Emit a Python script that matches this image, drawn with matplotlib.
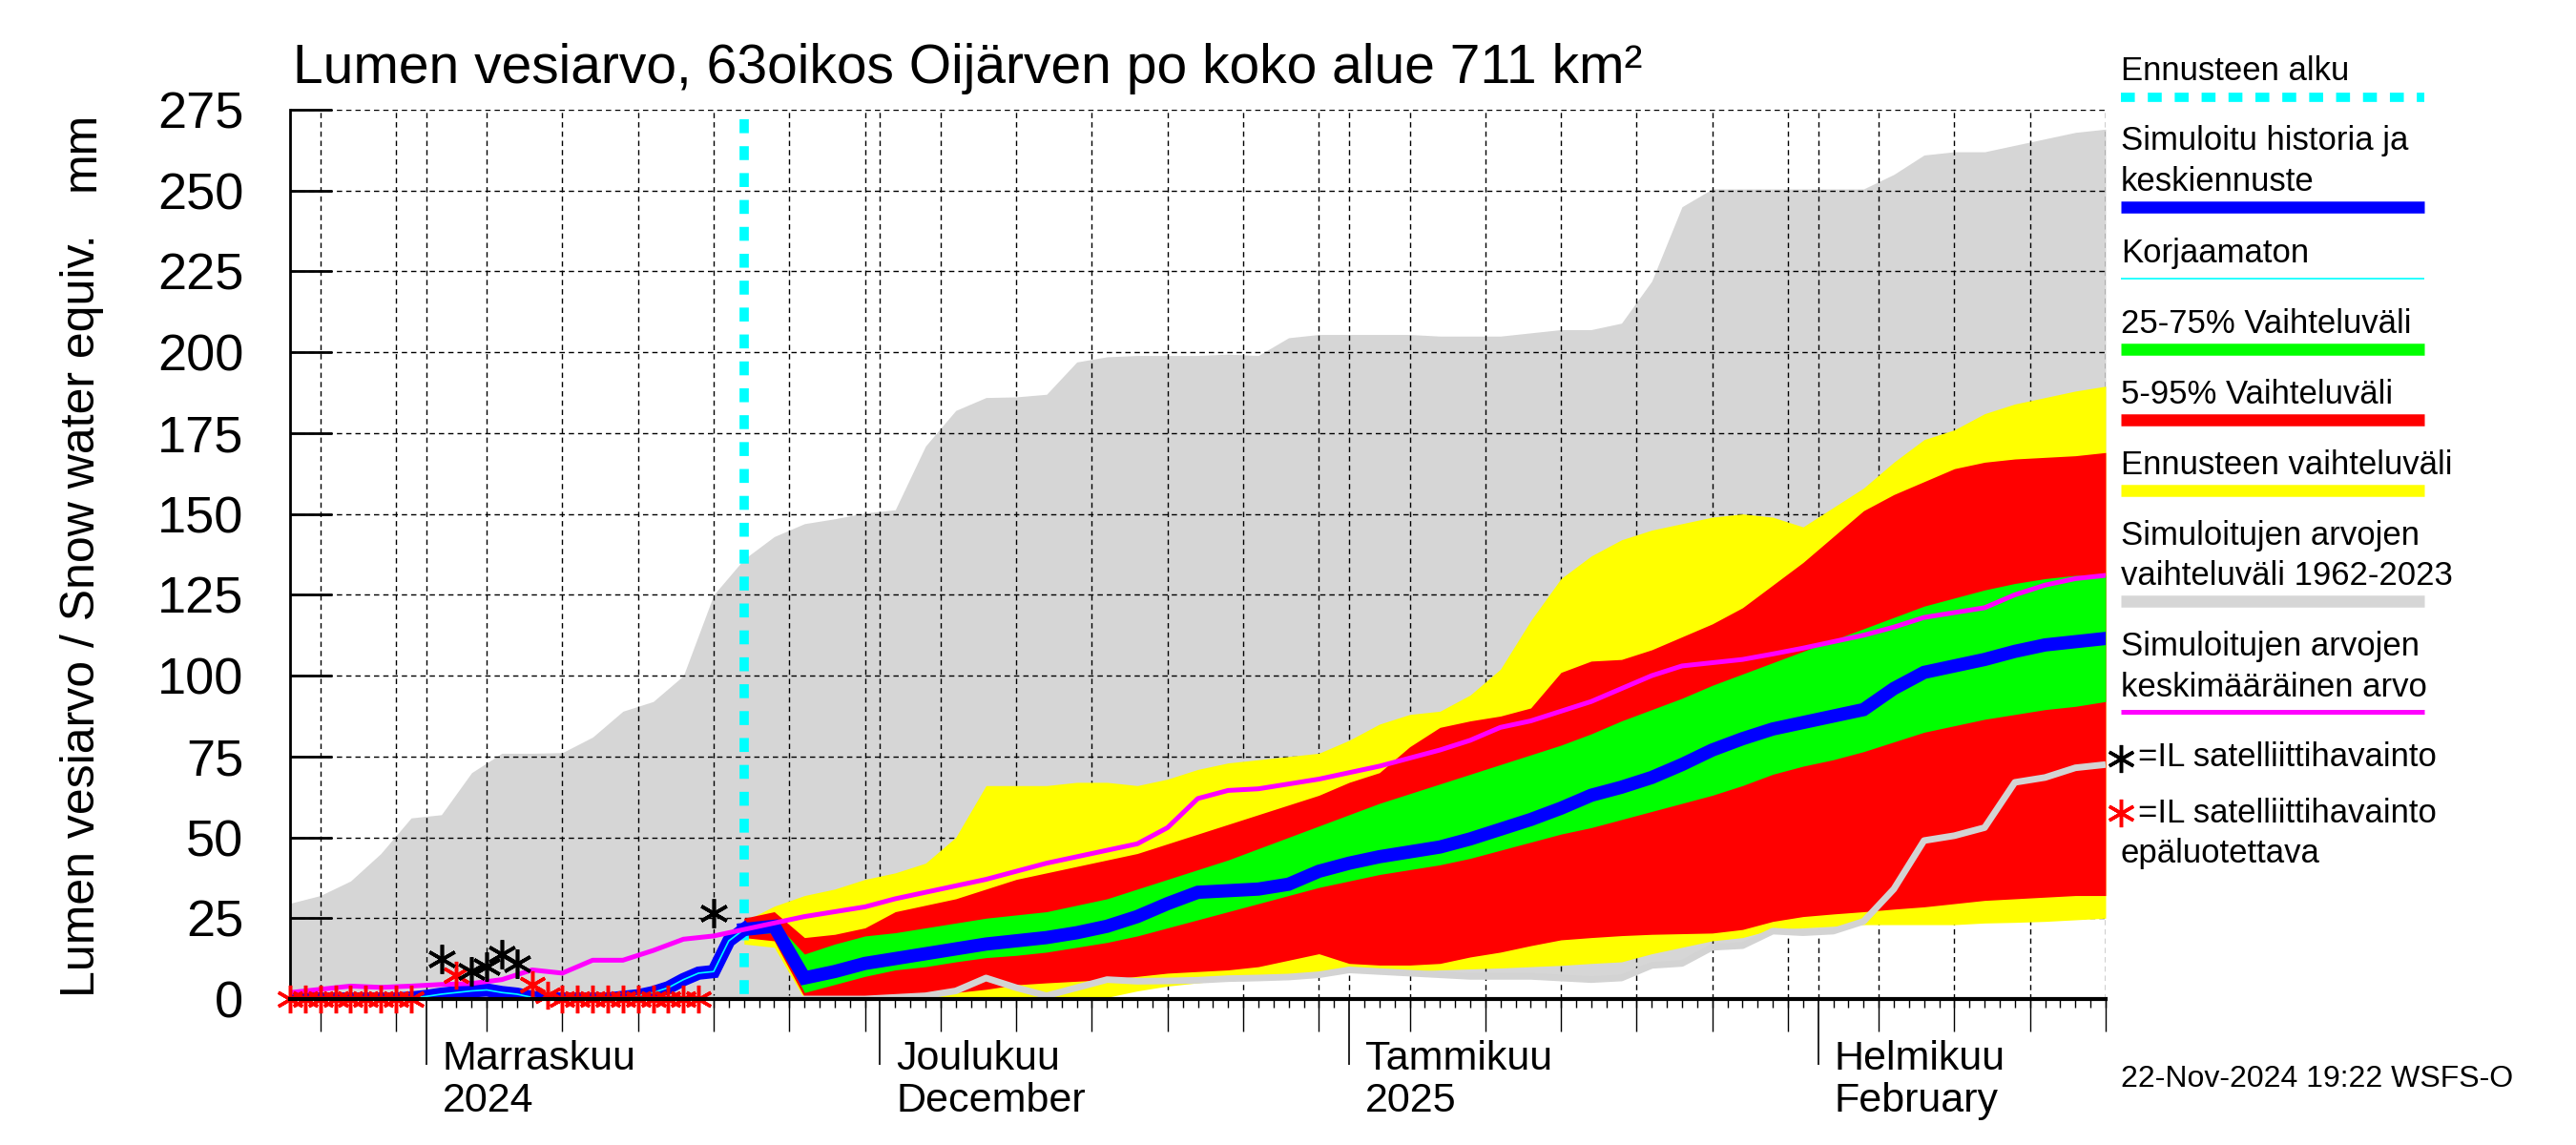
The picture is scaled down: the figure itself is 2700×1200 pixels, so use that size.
import numpy as np
import pandas as pd
import matplotlib
matplotlib.use("Agg")
import matplotlib.pyplot as plt
from matplotlib.lines import Line2D
import matplotlib.transforms as mtransforms

plt.rcParams['font.family'] = ['Liberation Sans', 'DejaVu Sans']

# ---- data (day offsets counted from 23 Oct 2024) ----
start = pd.Timestamp('2024-10-23')
end = pd.Timestamp('2025-02-20')
forecast_start = pd.Timestamp('2024-11-22')

band_days = list(range(0, 121, 2))      # simulated range 1962-2023 and mean
fc_days = list(range(30, 121, 2))       # forecast ensemble
hist_days = list(range(0, 31))          # simulated history

gray_max = [29.6, 32, 36.5, 45, 56, 57, 70, 76, 76, 76.2, 81, 89, 92, 100, 125, 136,
            143, 147, 148.5, 150.3, 151.3, 171, 182, 186, 186.2, 187, 197, 198.6, 199, 199,
            199, 199.4, 199, 204.5, 205.5, 205.5, 205.5, 205.5, 205, 205, 205, 206, 207, 207,
            209, 222, 245, 250.5, 250.5, 250.5, 250.5, 250.5, 250.5, 255, 261, 262, 262, 264,
            266, 268, 269]
gray_min = [0, 0, 0, 0, 0, 0, 0, 0, 0, 0, 0, 0, 0, 0, 0, 0, 0, 0, 0, 0,
            0.5, 1, 2.5, 6.5, 3.5, 1, 3.5, 6, 5.5, 5.6, 5.8, 6.3, 6.5, 6.8, 7.5, 9, 8.5, 8,
            7.5, 7, 7, 7, 6.5, 6, 6.5, 10.4, 11, 16, 16.5, 21, 20.5, 21, 24, 34, 49, 50.5,
            53, 67, 68.5, 71.5, 72.5]
mean_sim = [2, 3, 4, 3.6, 4, 4.5, 4.8, 6, 9, 8, 12, 12, 15, 18.5, 19.5, 21.5, 23.5,
            25.5, 27, 28.5, 31, 33, 35, 37, 39.5, 42, 44, 46, 48, 53, 62, 64.5, 65, 66.5,
            68, 70, 72, 74.5, 77, 80, 84, 86, 89, 92, 96, 100, 103, 104, 105, 106.7, 108.5,
            110.5, 112.5, 115, 118, 119.5, 121, 125, 128, 130, 131]

yellow_hi = [24, 28.7, 32, 34, 37, 39, 42, 50, 66, 66, 66, 67, 67, 66, 68, 71, 73, 74,
             75, 76, 80, 85, 88, 89, 94, 102, 117, 130, 137, 142, 145, 147, 149, 150, 149,
             146, 152, 158, 166, 173, 176, 181, 184, 186, 188, 189.5]
yellow_lo = [17, 16, 0, 0, 0, 0, 0, 0, 0, 0, 0, 0, 0.5, 2.5, 4, 5, 6, 6.5, 7.5, 8, 8.5,
             8.5, 8.6, 9, 9.3, 9.6, 10, 10.4, 11, 11.5, 14, 16, 18, 19, 21.5, 22, 22.5, 23,
             23, 23, 23, 23.5, 23.7, 24, 24.5, 25]
red_hi = [25, 27, 19, 20, 22, 27, 29, 31, 34, 37, 39, 41, 43, 45, 48, 51, 54, 57, 60,
          63, 67, 70, 78, 84, 86, 87.5, 90, 101, 104.5, 105, 108, 112, 116, 121, 128, 135,
          143, 151, 156, 160, 164, 166, 167, 167.5, 168, 169]
red_lo = [19, 18, 0.6, 1, 1, 1, 1.5, 2, 3, 4.4, 5, 5.5, 6, 7, 8, 8.5, 9, 10, 12, 14, 11,
          10.5, 10.5, 11, 13, 14.5, 16.5, 18.3, 19, 19.6, 20, 20.2, 20.4, 21.5, 24, 25.5,
          26.3, 27, 27.8, 28.5, 29.5, 30.5, 31, 31.5, 32, 32]
green_hi = [23, 24, 13.9, 17, 19.5, 20.5, 22, 23.5, 25, 26, 27, 29, 31, 34, 37, 40, 43,
            46.5, 50, 53.5, 57, 60.5, 63.5, 66.5, 69.5, 72.5, 75.5, 78.5, 82, 86, 89.5, 93,
            97, 100.5, 104, 107.5, 111, 114.5, 118, 121.5, 124, 126.5, 128.5, 130, 131, 131]
green_lo = [20, 20.5, 2, 4.5, 7, 9, 10, 11.5, 12.8, 13.5, 14.5, 16, 17.5, 19.5, 22, 24.5,
            27, 29.5, 32, 34.5, 36.5, 38.5, 40, 41.5, 43.5, 46, 48.5, 51, 53, 55.5, 58,
            60.5, 63, 66, 69.5, 72, 74, 76.5, 79.5, 82.5, 84.5, 86.5, 88, 89.5, 90.5, 92]
median_fc = [21.5, 22.5, 6.5, 8.5, 11, 12.5, 14, 15.5, 17, 18, 19, 20.5, 22.5, 25.5,
             29.5, 33, 33.5, 34, 35.5, 39.5, 42, 44, 45.5, 47, 49.5, 52.5, 55.5, 59, 63,
             65.5, 68.5, 72.5, 77, 80.5, 83.5, 85.5, 87.5, 89.5, 96, 101, 103, 105, 107.5,
             109.5, 110.5, 111.5]
sim_hist = [0, 0, 0, 0, 0, 0, 0, 0, 0.3, 0.8, 1.5, 2, 2.5, 2.8, 2, 1.5, 0.5, 0, 0, 0, 0,
            0, 0.5, 1, 2, 3.5, 6, 8, 8.5, 18, 21.5]

sat_days = [10, 12, 13, 14, 15, 28]
sat_vals = [12.4, 8.5, 10, 13.9, 10.9, 26.7]
bad_days = [0, 1, 2, 3, 4, 5, 6, 7, 8, 11, 16, 17, 18, 19, 20, 21, 22, 23, 24, 25, 26, 27]
bad_vals = [0, 0, 0, 0, 0, 0, 0, 0, 0, 7.5, 4.5, 1.2, 0, 0, 0, 0, 0, 0, 0, 0, 0, 0]

month_starts = ['2024-11-01', '2024-12-01', '2025-01-01', '2025-02-01']
month_labels = [('Marraskuu', '2024'), ('Joulukuu', 'December'),
                ('Tammikuu', '2025'), ('Helmikuu', 'February')]
y_ticks = list(range(0, 276, 25))


def to_dates(days):
    return start + pd.to_timedelta(np.asarray(days, dtype=float), unit='D')


W, H = 2700, 1200
fig = plt.figure(figsize=(27, 12), dpi=100)
ax = fig.add_axes([304 / W, 1 - 1047 / H, (2207 - 304) / W, (1047 - 115) / H])

bx = to_dates(band_days)
fx = to_dates(fc_days)
hx = to_dates(hist_days)

ax.fill_between(bx, gray_min, gray_max, color='#d6d6d6', lw=0, zorder=1)
ax.fill_between(fx, yellow_lo, yellow_hi, color='#ffff00', lw=0, zorder=3)
ax.fill_between(fx, red_lo, red_hi, color='#ff0000', lw=0, zorder=4)
ax.fill_between(fx, green_lo, green_hi, color='#00ff00', lw=0, zorder=5)
ax.plot(bx, gray_min, color='#d3d3d3', lw=5, zorder=6, solid_capstyle='butt')

ax.plot([forecast_start, forecast_start], [272, 0], color='#00ffff', lw=7,
        dashes=(1.5, 1.4), zorder=6.5)

ax.plot(hx, sim_hist, color='#0000ff', lw=10, zorder=7, solid_joinstyle='miter')
ax.plot(fx, median_fc, color='#0000ff', lw=10, zorder=7, solid_joinstyle='miter')
ax.plot(hx, sim_hist, color='#00ffff', lw=1.2, zorder=7.5)
ax.plot(bx, mean_sim, color='#ff00ff', lw=3.6, zorder=8)

ast = (6, 2, 0)
ax.plot(to_dates(bad_days), bad_vals, ls='none', marker=ast, ms=21, mew=2.5,
        color='#ff0000', zorder=9, clip_on=False)
ax.plot(to_dates(sat_days), sat_vals, ls='none', marker=ast, ms=22, mew=2.6,
        color='black', zorder=9.5)

# grid: every 5th day and month starts, every 25 mm
all_days = pd.date_range(start, end, freq='D')
grid_days = [d for d in all_days if d.day in (1, 5, 10, 15, 20, 25, 30)]
for d in grid_days:
    ax.axvline(d, color='black', lw=1, ls=(0, (4, 3)), zorder=2)
for v in y_ticks[1:]:
    ax.axhline(v, color='black', lw=1, ls=(0, (4, 3)), zorder=2)

ax.set_xlim(start, end)
ax.set_ylim(0, 275)
for s in ('top', 'right'):
    ax.spines[s].set_visible(False)
ax.spines['left'].set_linewidth(2)
ax.spines['bottom'].set_linewidth(3)
ax.spines['bottom'].set_zorder(10)

ax.set_yticks(y_ticks)
ax.tick_params(axis='y', direction='in', length=32, width=2, pad=35, labelsize=39)
ax.set_xticks(pd.to_datetime(month_starts))
ax.set_xticks(all_days, minor=True)
ax.tick_params(axis='x', which='major', direction='out', length=50, width=1.2,
               labelbottom=False)
ax.tick_params(axis='x', which='minor', direction='out', length=6.5, width=1)
five_days = [d for d in all_days if d.day in (5, 10, 15, 20, 25, 30)]
ax.vlines(five_days, 0, -34 / 932, transform=ax.get_xaxis_transform(),
          color='black', lw=1, clip_on=False)

off = mtransforms.ScaledTranslation(17 / 100, 0, fig.dpi_scale_trans)
for m, (l1, l2) in zip(month_starts, month_labels):
    tr = ax.get_xaxis_transform() + off
    ax.text(pd.Timestamp(m), (1047 - 1121) / 932, l1, transform=tr, fontsize=31,
            ha='left', va='baseline')
    ax.text(pd.Timestamp(m), (1047 - 1165) / 932, l2, transform=tr, fontsize=31,
            ha='left', va='baseline')

fig.text(307 / W, 1 - 87 / H, 'Lumen vesiarvo, 63oikos Oijärven po koko alue 711 km²',
         fontsize=41, ha='left', va='baseline')
fig.text(99 / W, 1 - 1045 / H, 'Lumen vesiarvo / Snow water equiv.', fontsize=36,
         rotation=90, rotation_mode='anchor', ha='left', va='baseline')
fig.text(99 / W, 1 - 117 / H, 'mm', fontsize=36, rotation=90, rotation_mode='anchor',
         ha='right', va='baseline')

# ---- legend on the right ----
lx0, lx1 = 2223 / W, 2541 / W
leg_text = [(84, 'Ennusteen alku'), (157, 'Simuloitu historia ja'), (200, 'keskiennuste'),
            (275, 'Korjaamaton'), (349, '25-75% Vaihteluväli'), (423, '5-95% Vaihteluväli'),
            (497, 'Ennusteen vaihteluväli'), (571, 'Simuloitujen arvojen'),
            (613, 'vaihteluväli 1962-2023'), (687, 'Simuloitujen arvojen'),
            (730, 'keskimääräinen arvo'), (904, 'epäluotettava')]
for y, t in leg_text:
    fig.text(lx0, 1 - y / H, t, fontsize=25, ha='left', va='baseline')
leg_lines = [(101.5, '#00ffff', 7, (1.5, 1.4)), (217, '#0000ff', 9, None),
             (291.6, '#00ffff', 1.2, None), (366, '#00ff00', 9, None),
             (440, '#ff0000', 9, None), (514, '#ffff00', 9, None),
             (629.5, '#d6d6d6', 9, None), (746, '#ff00ff', 3.6, None)]
for y, c, lw, dsh in leg_lines:
    ln = Line2D([lx0, lx1], [1 - y / H, 1 - y / H], transform=fig.transFigure,
                color=c, lw=lw, solid_capstyle='butt')
    if dsh:
        ln.set_dashes(dsh)
    fig.add_artist(ln)
for y, c in ((795, 'black'), (852, '#ff0000')):
    fig.add_artist(Line2D([2223 / W], [1 - y / H], transform=fig.transFigure, ls='none',
                          marker=ast, ms=21, mew=2.5, color=c))
fig.text(2241 / W, 1 - 803 / H, '=IL satelliittihavainto', fontsize=25, ha='left',
         va='baseline')
fig.text(2241 / W, 1 - 862 / H, '=IL satelliittihavainto', fontsize=25, ha='left',
         va='baseline')
fig.text(2223 / W, 1 - 1139 / H, '22-Nov-2024 19:22 WSFS-O', fontsize=23, ha='left',
         va='baseline')

fig.savefig('out.png', dpi=100)
